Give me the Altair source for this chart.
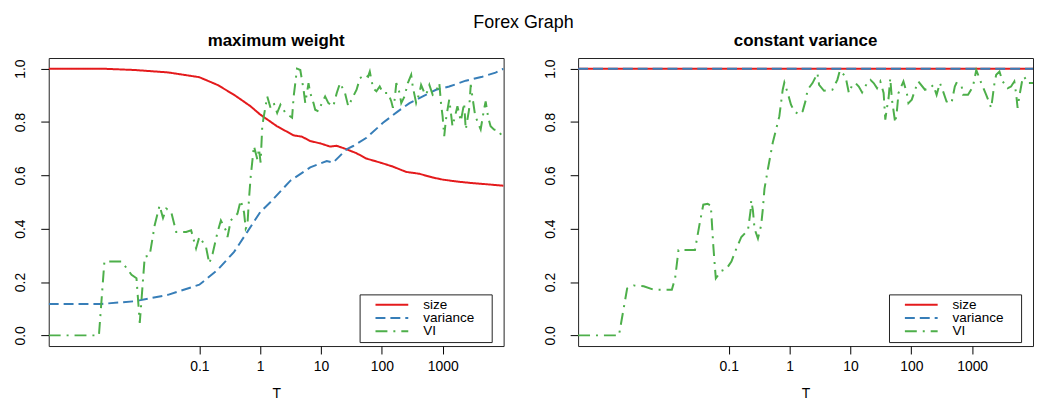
import altair as alt
import pandas as pd

series_names = ["size", "variance", "VI"]
series_colors = ["#E41A1C", "#377EB8", "#4DAF4A"]
series_dashes = [[1, 0], [10, 5], [12, 6, 2, 6]]

# ---- panel 1: maximum weight (x values are log10 of T) ----
mw_size_log10T = [-3.475, -2.603, -2.06, -1.516, -1.0, -0.701, -0.429, -0.158, 0.0, 0.277,
                  0.549, 0.685, 0.821, 1.0, 1.147, 1.255, 1.418, 1.582, 1.745, 2.0,
                  2.179, 2.397, 2.614, 2.832, 3.0, 3.266, 3.484, 3.755, 4.0]
mw_size = [1.0, 1.0, 0.995, 0.986, 0.968, 0.939, 0.902, 0.859, 0.828, 0.784,
           0.75, 0.745, 0.729, 0.719, 0.708, 0.711, 0.698, 0.683, 0.663, 0.646,
           0.633, 0.613, 0.606, 0.592, 0.584, 0.576, 0.571, 0.566, 0.561]

mw_var_log10T = [-3.475, -2.603, -2.06, -1.516, -1.0, -0.701, -0.429, -0.212, 0.0, 0.17,
                 0.496, 0.822, 1.094, 1.2, 1.42, 1.528, 1.747, 2.018, 2.263, 2.454,
                 2.672, 2.889, 3.106, 3.378, 3.65, 3.868, 4.0]
mw_var = [0.118, 0.118, 0.128, 0.152, 0.19, 0.245, 0.313, 0.388, 0.462, 0.5,
          0.58, 0.63, 0.654, 0.648, 0.698, 0.71, 0.741, 0.797, 0.84, 0.871,
          0.896, 0.921, 0.933, 0.955, 0.97, 0.985, 1.0]

mw_vi_log10T = [-3.475, -2.65, -2.56, -2.277, -2.114, -2.033, -1.979, -1.897, -1.816, -1.734,
                -1.653, -1.597, -1.543, -1.462, -1.380, -1.217, -1.135, -1.054, -1.0, -0.891,
                -0.837, -0.781, -0.700, -0.646, -0.564, -0.537, -0.483, -0.374, -0.320, -0.266,
                -0.238, -0.210, -0.184, -0.157, -0.103, -0.047, -0.021, 0.007, 0.034, 0.060,
                0.116, 0.170, 0.223, 0.279, 0.333, 0.414, 0.524, 0.550, 0.577, 0.605,
                0.659, 0.713, 0.741, 0.794, 0.822, 0.876, 0.904, 0.958, 1.013, 1.067,
                1.121, 1.202, 1.258, 1.312, 1.393, 1.447, 1.502, 1.584, 1.638, 1.719,
                1.773, 1.801, 1.855, 1.910, 1.964, 2.018, 2.100, 2.155, 2.181, 2.209,
                2.237, 2.290, 2.318, 2.372, 2.426, 2.481, 2.507, 2.563, 2.617, 2.644,
                2.698, 2.726, 2.780, 2.834, 2.889, 2.943, 2.971, 2.997, 3.024, 3.052,
                3.078, 3.106, 3.134, 3.160, 3.188, 3.241, 3.297, 3.351, 3.378, 3.432,
                3.460, 3.486, 3.530, 3.568, 3.623, 3.677, 3.705, 3.747, 3.786, 3.840,
                3.922, 4.0]
mw_vi = [0.0, 0.0, 0.277, 0.277, 0.227, 0.214, 0.047, 0.295, 0.30, 0.413,
         0.487, 0.44, 0.475, 0.462, 0.388, 0.388, 0.394, 0.326, 0.369, 0.332,
         0.27, 0.307, 0.388, 0.431, 0.394, 0.369, 0.431, 0.456, 0.506, 0.462,
         0.40, 0.413, 0.512, 0.593, 0.71, 0.66, 0.70, 0.648, 0.784, 0.822,
         0.896, 0.853, 0.871, 0.834, 0.865, 0.834, 0.816, 0.896, 0.946, 1.0,
         0.995, 0.921, 0.871, 0.946, 0.909, 0.871, 0.846, 0.84, 0.871, 0.896,
         0.871, 0.859, 0.909, 0.946, 0.909, 0.859, 0.884, 0.921, 0.964, 0.977,
         0.97, 0.989, 0.927, 0.915, 0.933, 0.909, 0.909, 0.877, 0.853, 0.884,
         0.946, 0.909, 0.871, 0.896, 0.946, 0.977, 0.933, 0.871, 0.909, 0.939,
         0.909, 0.902, 0.939, 0.902, 0.914, 0.946, 0.871, 0.822, 0.747, 0.809,
         0.846, 0.884, 0.834, 0.784, 0.809, 0.859, 0.803, 0.871, 0.772, 0.846,
         0.939, 0.896, 0.828, 0.803, 0.772, 0.846, 0.877, 0.816, 0.784, 0.772,
         0.766, 0.735]

# ---- panel 2: constant variance ----
cv_size_log10T = [-3.475, 4.0]
cv_size = [1.0, 1.0]
cv_var_log10T = [-3.475, 4.0]
cv_var = [1.0, 1.0]

cv_vi_log10T = [-3.475, -2.804, -2.669, -2.56, -2.396, -2.233, -1.935, -1.881, -1.825, -1.555,
                -1.473, -1.418, -1.347, -1.294, -1.254, -1.228, -1.212, -1.119, -1.038, -0.956,
                -0.874, -0.793, -0.684, -0.641, -0.630, -0.602, -0.576, -0.520, -0.467, -0.439,
                -0.413, -0.357, -0.276, -0.222, -0.168, -0.113, -0.086, -0.031, 0.023, 0.077,
                0.158, 0.214, 0.268, 0.295, 0.377, 0.458, 0.485, 0.566, 0.703, 0.785,
                0.827, 0.920, 0.974, 1.03, 1.083, 1.137, 1.192, 1.274, 1.328, 1.382,
                1.437, 1.491, 1.545, 1.573, 1.60, 1.627, 1.654, 1.682, 1.736, 1.763,
                1.790, 1.871, 1.926, 1.953, 2.008, 2.062, 2.116, 2.225, 2.307, 2.361,
                2.416, 2.470, 2.524, 2.579, 2.661, 2.715, 2.742, 2.824, 2.85, 2.932,
                3.013, 3.068, 3.15, 3.231, 3.313, 3.367, 3.395, 3.449, 3.502, 3.584,
                3.639, 3.693, 3.721, 3.747, 3.775, 3.829, 3.856, 3.910, 4.0]
cv_vi = [0.0, 0.0, 0.176, 0.187, 0.184, 0.171, 0.171, 0.214, 0.32, 0.32,
         0.425, 0.49, 0.493, 0.487, 0.338, 0.258, 0.214, 0.242, 0.249, 0.277,
         0.326, 0.369, 0.394, 0.468, 0.506, 0.468, 0.40, 0.363, 0.413, 0.475,
         0.549, 0.623, 0.723, 0.772, 0.822, 0.921, 0.948, 0.909, 0.865, 0.84,
         0.828, 0.84, 0.884, 0.921, 0.946, 0.983, 0.939, 0.917, 0.921, 0.958,
         0.993, 0.970, 0.909, 0.939, 0.946, 0.933, 0.911, 0.946, 0.958, 0.946,
         0.927, 0.952, 0.909, 0.809, 0.853, 0.89, 0.964, 0.884, 0.797, 0.84,
         0.909, 0.952, 0.909, 0.871, 0.884, 0.921, 0.952, 0.921, 0.927, 0.939,
         0.902, 0.946, 0.914, 0.877, 0.871, 0.933, 0.946, 0.939, 0.902, 0.902,
         0.933, 0.995, 0.946, 0.902, 0.853, 0.946, 0.977, 0.989, 0.952, 0.927,
         0.933, 0.952, 0.909, 0.853, 0.896, 0.964, 0.970, 0.946, 0.946]

x_tick_values = [0.1, 1, 10, 100, 1000]
y_tick_values = [0.0, 0.2, 0.4, 0.6, 0.8, 1.0]


def frame(series, log10T, values):
    return pd.DataFrame({"series": series, "T": [10 ** v for v in log10T], "value": values})


panels = {
    "maximum weight": [frame("size", mw_size_log10T, mw_size),
                       frame("variance", mw_var_log10T, mw_var),
                       frame("VI", mw_vi_log10T, mw_vi)],
    "constant variance": [frame("size", cv_size_log10T, cv_size),
                          frame("variance", cv_var_log10T, cv_var),
                          frame("VI", cv_vi_log10T, cv_vi)],
}

x_domain = [10 ** -3.475, 10 ** 4.0]
y_domain = [-0.04, 1.04]

legend = alt.Legend(
    title=" ", titleOrient="right", titlePadding=14, titleFontSize=10,
    orient="none", legendX=313, legendY=238,
    strokeColor="#222", fillColor="white", padding=4, cornerRadius=0,
    symbolType="stroke", symbolSize=1089, symbolStrokeWidth=2,
    clipHeight=12.7, rowPadding=-0.6, labelFontSize=13.6, labelOffset=14,
    symbolOffset=11, labelFont="Liberation Sans", labelColor="black",
)


def panel(title, frames):
    layers = []
    for df in frames:
        layers.append(
            alt.Chart(df).mark_line(strokeWidth=2, clip=True).encode(
                x=alt.X("T:Q", scale=alt.Scale(type="log", domain=x_domain, nice=False),
                        axis=alt.Axis(values=x_tick_values, format="~g", title="T",
                                      grid=False, domain=False, tickSize=8, tickColor="black",
                                      labelFontSize=14, titleFontSize=14, titleFontWeight="normal",
                                      labelColor="black", titleColor="black", labelPadding=6,
                                      titlePadding=13, labelFlush=False)),
                y=alt.Y("value:Q", scale=alt.Scale(domain=y_domain, nice=False, zero=False),
                        axis=alt.Axis(values=y_tick_values, format=".1f", title=None,
                                      grid=False, domain=False, tickSize=8, tickColor="black",
                                      labelFontSize=14, labelColor="black", labelAngle=270,
                                      labelAlign="center", labelBaseline="bottom", labelPadding=13)),
                color=alt.Color("series:N", scale=alt.Scale(domain=series_names, range=series_colors),
                                legend=legend),
                strokeDash=alt.StrokeDash("series:N",
                                          scale=alt.Scale(domain=series_names, range=series_dashes),
                                          legend=legend),
            )
        )
    return alt.layer(*layers).properties(
        width=458, height=290,
        title=alt.TitleParams(title, fontSize=17, fontWeight="bold", font="Liberation Sans",
                              color="black", offset=8),
    )


left = panel("maximum weight", panels["maximum weight"])
right = panel("constant variance", panels["constant variance"])

chart = (
    alt.hconcat(left, right, spacing=38)
    .resolve_scale(color="independent", strokeDash="independent")
    .resolve_legend(color="independent", strokeDash="independent")
    .properties(
        title=alt.TitleParams("Forex Graph", fontSize=18, fontWeight="normal",
                              font="Liberation Sans", color="black", anchor="middle", offset=0),
        padding={"left": 5, "top": 4, "right": 0, "bottom": 0},
    )
    .configure(font="Liberation Sans")
    .configure_view(stroke="#222", strokeWidth=1)
    .configure_axis(labelFont="Liberation Sans", titleFont="Liberation Sans")
)

chart.save("out.html", embed_options={"renderer": "svg", "actions": False})
